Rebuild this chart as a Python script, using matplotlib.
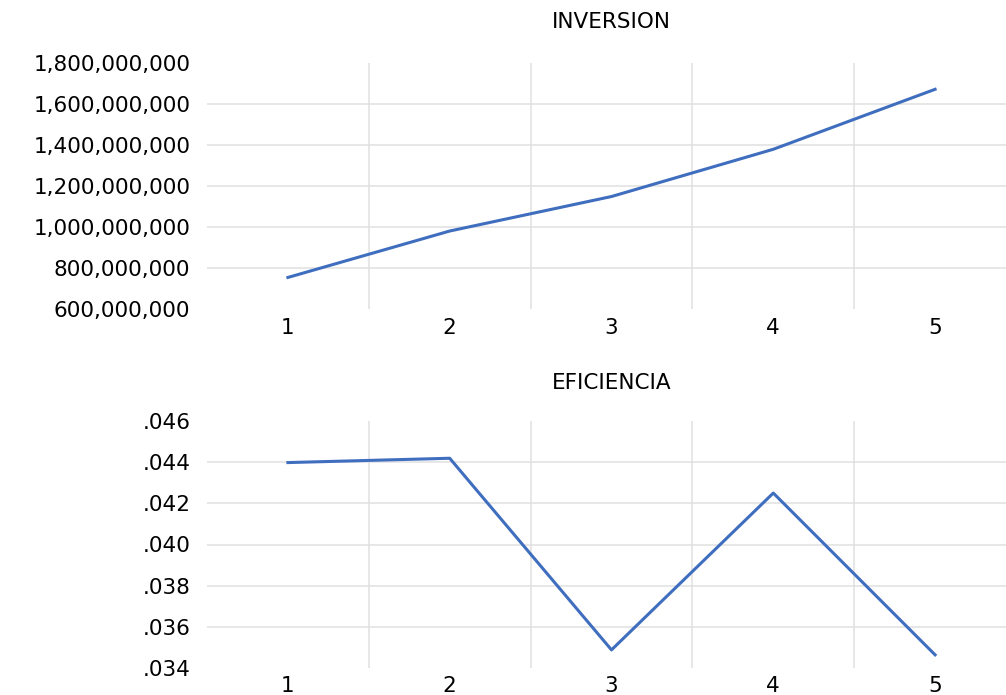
import matplotlib
matplotlib.use("Agg")
import matplotlib.pyplot as plt
from matplotlib.ticker import FuncFormatter, MultipleLocator

# data for the two panels
periodos = [1, 2, 3, 4, 5]
inversion = [756e6, 982e6, 1150e6, 1380e6, 1672e6]
eficiencia = [0.04398, 0.04419, 0.03488, 0.0425, 0.03464]

line_color = '#3F6EBF'
grid_color = '#E0E0E0'
text_color = '#000000'
fs = 15.5

plt.rcParams['font.family'] = 'DejaVu Sans'

fig = plt.figure(figsize=(10.06, 6.95), dpi=100)
W, H = 1006, 695


def px_axes(left, top, right, bottom):
    return fig.add_axes([left / W, 1 - bottom / H, (right - left) / W, (bottom - top) / H])


def style(ax, ymin, ymax, step, fmt, title, tpad):
    ax.set_xlim(0.5, 5.5)
    ax.set_ylim(ymin, ymax)
    ax.yaxis.set_major_locator(MultipleLocator(step))
    ax.yaxis.set_major_formatter(FuncFormatter(fmt))
    ax.set_xticks(periodos)
    ax.set_xticks([1.5, 2.5, 3.5, 4.5], minor=True)
    for s in ax.spines.values():
        s.set_visible(False)
    ax.tick_params(which='both', length=0)
    ax.tick_params(axis='y', pad=12, labelsize=fs, labelcolor=text_color)
    ax.tick_params(axis='x', pad=6, labelsize=fs, labelcolor=text_color)
    # horizontal grid only on interior ticks
    for t in ax.get_yticks():
        if ymin + step * 0.5 < t < ymax - step * 0.5:
            ax.axhline(t, color=grid_color, lw=1.1, zorder=0)
    ax.grid(which='minor', axis='x', color=grid_color, lw=1.1, zorder=0)
    ax.set_title(title, fontsize=fs, color=text_color, pad=tpad)


ax1 = px_axes(207, 63, 1016, 309.5)
ax1.plot(periodos, inversion, color=line_color, lw=2.2, zorder=3)
style(ax1, 600e6, 1800e6, 200e6, lambda v, p: f'{v:,.0f}', 'INVERSION', 25)

ax2 = px_axes(207, 421, 1016, 668)
ax2.plot(periodos, eficiencia, color=line_color, lw=2.2, zorder=3)
style(ax2, 0.034, 0.046, 0.002, lambda v, p: f'{v:.3f}'.lstrip('0'), 'EFICIENCIA', 23)

fig.savefig('out.png', dpi=100)
